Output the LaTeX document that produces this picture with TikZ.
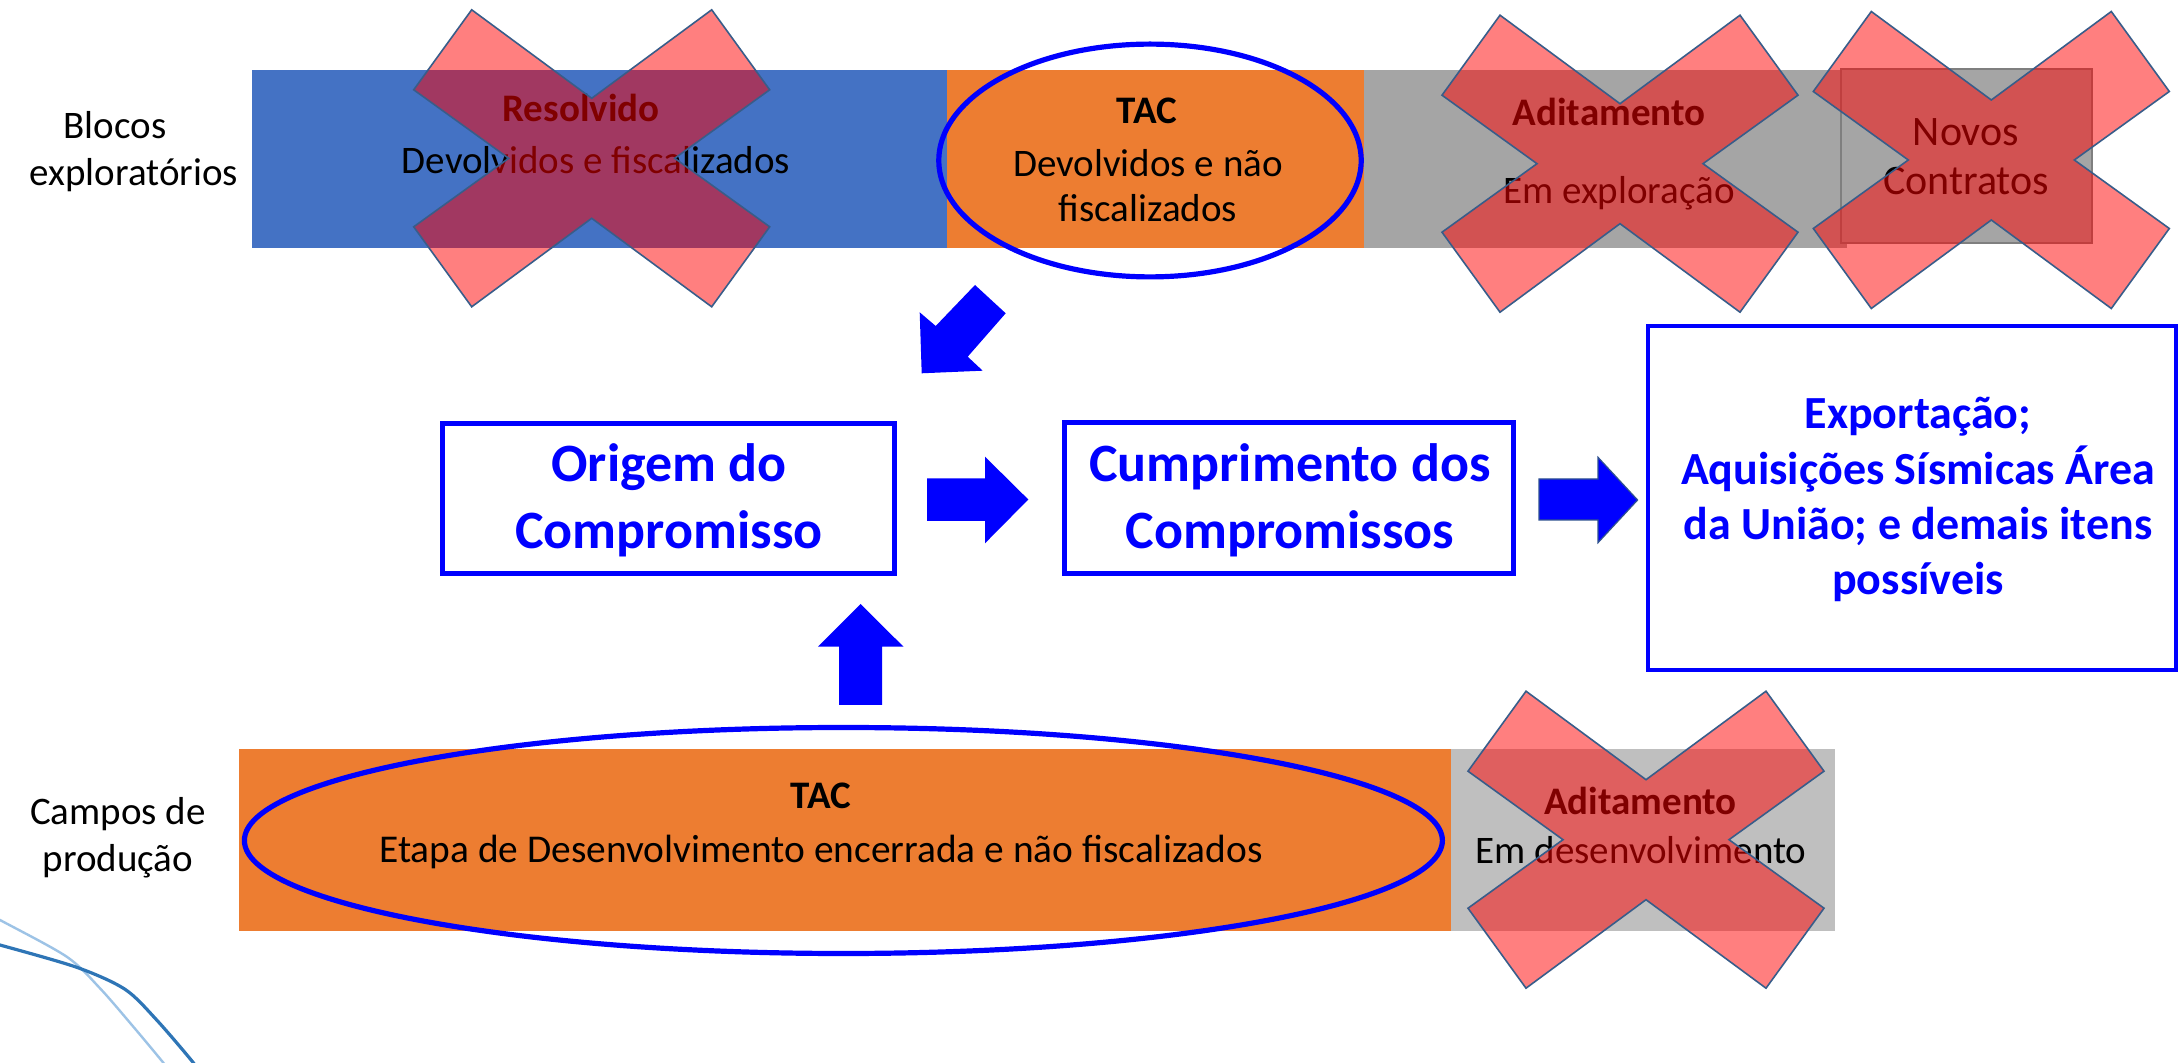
\documentclass[tikz,border=0pt]{standalone}
\usepackage{fontspec}
\setmainfont{Carlito}
\definecolor{barblue}{HTML}{4472C4}
\definecolor{barorange}{HTML}{ED7D31}
\definecolor{bargray}{HTML}{A5A5A5}
\definecolor{barlight}{HTML}{BFBFBF}
\definecolor{grayedge}{HTML}{7F7F7F}
\definecolor{pureblue}{HTML}{0000FF}
\definecolor{xedge}{HTML}{385D8A}
\definecolor{arrowedge}{HTML}{2F528F}
\definecolor{decodark}{HTML}{2E75B6}
\definecolor{decolight}{HTML}{9DC3E6}
\tikzset{
  xmark/.pic={
    \path[fill=red, fill opacity=0.5, draw=xedge, draw opacity=1, line width=0.8pt, line join=miter]
      (-178,-68.5) -- (-120,-148.5) -- (0,-60) -- (120,-148.5) -- (178,-68.5) -- (83,0)
      -- (178,68.5) -- (120,148.5) -- (0,60) -- (-120,148.5) -- (-178,68.5) -- (-83,0) -- cycle;
  }
}
\begin{document}
\begin{tikzpicture}[x=0.5pt,y=-0.5pt,
  txt/.style={font=\fontsize{19.5}{23}\selectfont, anchor=base, inner sep=0pt},
  ntxt/.style={font=\fontsize{21}{25}\selectfont, anchor=base, inner sep=0pt},
  btxt/.style={anchor=base, inner sep=0pt, font=\fontsize{19.5}{23}\selectfont\bfseries},
  bigtxt/.style={anchor=base, inner sep=0pt, text=pureblue, font=\fontsize{27}{32}\selectfont\bfseries},
  exptxt/.style={anchor=base, inner sep=0pt, text=pureblue, font=\fontsize{23}{28}\selectfont\bfseries},
  blockarrow/.style={fill=pureblue},
  flowbox/.style={draw=pureblue, line width=2.5pt, fill=white},
  ring/.style={draw=pureblue, line width=2.6pt},
]
\useasboundingbox[fill=white] (0,0) rectangle (2181,1063);

% decorative curves
\draw[decolight, line width=1.2pt] plot[smooth] coordinates {(-5,917) (0,920) (66.7,956.7) (100,988.3) (133.3,1026.7) (163.3,1062.7) (170,1072)};
\draw[decodark, line width=1.6pt] plot[smooth] coordinates {(-5,944) (0,945) (76.7,967.3) (125,989.3) (156.7,1020) (193.3,1062.7) (198,1072)};

% top bar
\fill[barblue] (252,70) rectangle (947,248);
\fill[barorange] (947,70) rectangle (1364,248);
\fill[bargray] (1364,70) rectangle (1847,248);
\draw[fill=bargray, draw=grayedge, line width=0.8pt] (1841,69) rectangle (2092,243);

% bottom bar
\fill[barorange] (239,749) rectangle (1451,931);
\fill[barlight] (1451,749) rectangle (1835,931);

% row labels
\node[txt] (blocos) at (115,139) {Blocos};
\node[txt] (explor) at (134,186) {exploratórios};
\node[txt] (campos) at (118,825) {Campos de};
\node[txt] (producao) at (118,871.7) {produção};

% top bar texts
\node[btxt] (resolvido) at (581,121.7) {Resolvido};
\node[txt] (devfisc) at (596,173.3) {Devolvidos e fiscalizados};
\node[btxt] (tacA) at (1147,123.3) {TAC};
\node[txt] (tacAb) at (1148,176.7) {Devolvidos e não};
\node[txt] (tacAc) at (1148,221.7) {fiscalizados};
\node[btxt] (aditA) at (1609,126) {Aditamento};
\node[txt] (aditAb) at (1619,203.3) {Em exploração};
\node[ntxt] (novos) at (1966,145.7) {Novos};
\node[ntxt] (contratos) at (1966,195) {Contratos};

% bottom bar texts
\node[btxt] (tacB) at (821,809) {TAC};
\node[txt, font=\fontsize{19.7}{23}\selectfont] (etapa) at (821,862.7) {Etapa de Desenvolvimento encerrada e não fiscalizados};
\node[btxt] (aditB) at (1640.5,814) {Aditamento};
\node[txt] (emdes) at (1641,863.3) {Em desenvolvimento};

% highlight ellipses
\draw[ring] (1150,160.5) ellipse [x radius=105.6pt, y radius=58.2pt];
\draw[ring] (843.4,840.5) ellipse [x radius=299.5pt, y radius=56.5pt];

% flow boxes
\draw[flowbox] (442.5,423.5) rectangle (894.5,573.5);
\draw[flowbox] (1064.5,422.5) rectangle (1513.5,573.5);
\draw[draw=pureblue, line width=2pt, fill=white] (1648,326) rectangle (2176,670);

\node[bigtxt] (origA) at (669,481.7) {Origem do};
\node[bigtxt] (origB) at (669,548.3) {Compromisso};
\node[bigtxt] (cumpA) at (1290,481.7) {Cumprimento dos};
\node[bigtxt] (cumpB) at (1290,548.3) {Compromissos};
\node[exptxt] (expA) at (1918,428.3) {Exportação;};
\node[exptxt] (expB) at (1918,484.3) {Aquisições Sísmicas Área};
\node[exptxt] (expC) at (1918,540) {da União; e demais itens};
\node[exptxt] (expD) at (1918,595) {possíveis};

% block arrows
\fill[blockarrow] (975,285) -- (1005.7,313.3) -- (967.7,356.7) -- (982.7,370.7) -- (921.7,373.3) -- (919.7,312.3) -- (935.7,326) -- cycle;
\fill[blockarrow] (927,478.3) -- (985,478.3) -- (985,456.7) -- (1028.3,499.5) -- (985,543.3) -- (985,521) -- (927,521) -- cycle;
\filldraw[blockarrow, draw=arrowedge, line width=0.6pt] (1539,479) -- (1598,479) -- (1598,457.3) -- (1637.6,500) -- (1598,542.7) -- (1598,520) -- (1539,520) -- cycle;
\fill[blockarrow] (839,705) -- (839,646.7) -- (818,646.7) -- (860.5,604) -- (903.5,646.7) -- (882,646.7) -- (882,705) -- cycle;

% red crosses
\pic (xa) at (591.7,158.3) {xmark};
\pic (xb) at (1620,163.7) {xmark};
\pic (xc) at (1991.3,160) {xmark};
\pic (xd) at (1646,839.7) {xmark};
\end{tikzpicture}
\end{document}
